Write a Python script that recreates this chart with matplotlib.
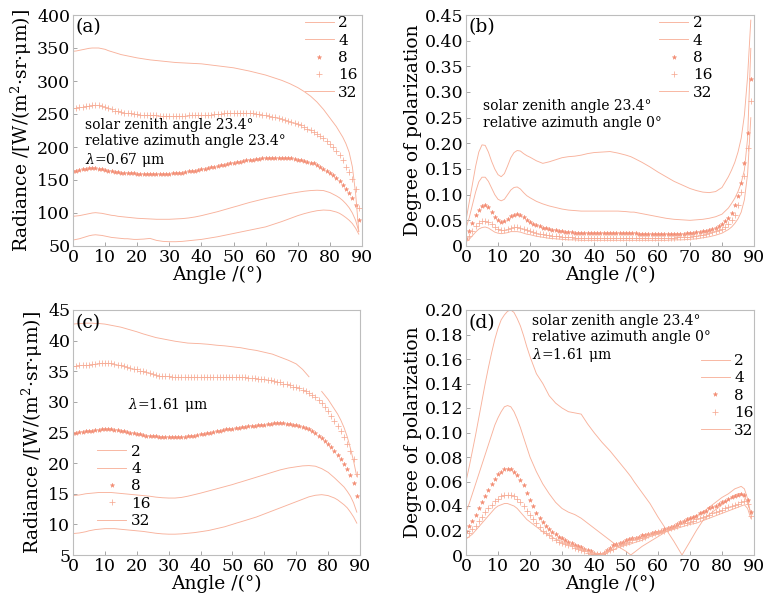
import numpy as np
import matplotlib
matplotlib.use("Agg")
import matplotlib.pyplot as plt

plt.rcParams['font.family'] = ['DejaVu Serif']
plt.rcParams['mathtext.fontset'] = 'dejavuserif'

# ---------------- data ----------------
labels = ["2", "4", "8", "16", "32"]
xticks = [0, 10, 20, 30, 40, 50, 60, 70, 80, 90]

# angle grid for the line series
x_line = [0, 1, 2, 3, 4, 5, 6, 7, 8, 9, 10, 11, 12, 13, 14, 15, 16, 17, 18, 19, 20,
          22, 24, 26, 28, 30, 32, 34, 36, 38, 40,
          42.5, 45, 47.5, 50, 51.5, 52.5, 55, 57.5, 60, 62.5, 65, 67.5, 70,
          72, 74, 76, 78, 80, 82, 83, 84, 85, 86, 87, 88, 89]
# angle grid for the marker series (one point per degree)
x_mark = list(range(0, 90))

# (a) radiance, lambda = 0.67 um
a_2 = [59, 60, 61, 62.5, 64, 65.5, 66.5, 67, 66.5, 66, 65, 64, 63, 62.5, 62, 61.5, 61, 61, 60.5, 60, 60,
       60.5, 61.5, 58.5, 57, 56.5, 56.5, 57, 58, 59, 60,
       62, 64, 66.5, 69, 70.5, 71.5, 74, 76.5, 79, 83, 87, 91.5, 96,
       99, 101.5, 103.5, 104.5, 104, 101.5, 99.5, 96.5, 93, 89, 84, 77, 68]
a_4 = [95, 95.5, 96, 97, 98, 99, 100, 100.5, 100, 99.5, 98.5, 97.5, 96.5, 96, 95, 94.5, 94, 93.5, 93, 92.5, 92,
       91.5, 91, 90.5, 90.5, 90.5, 91, 91.5, 92.5, 94, 96,
       99, 102, 105.5, 109, 111, 112.5, 116, 119, 122, 124.5, 127, 129.5, 131.5,
       133, 134, 134.5, 134, 131, 126, 123, 119, 114, 108, 100, 89, 72]
a_8 = [163, 164, 165, 166, 167, 168, 168, 168, 167, 166,
       165, 164, 163, 162, 162, 161, 161, 160, 160, 160,
       159, 159, 159, 159, 159, 159, 159, 159, 159, 159,
       159, 160, 160, 161, 161, 162, 163, 163, 164, 165,
       166, 167, 168, 169, 170, 171, 172, 173, 174, 175,
       176, 177, 178, 179, 180, 180, 181, 182, 182, 183,
       183, 184, 184, 184, 184, 184, 184, 183, 183, 182,
       181, 180, 179, 178, 176, 175, 173, 170, 167, 164,
       160, 157, 153, 148, 143, 137, 130, 122, 112, 90]
a_16 = [259, 259, 260, 261, 262, 262, 263, 263, 263, 262,
        261, 259, 257, 255, 254, 253, 252, 251, 251, 250,
        250, 249, 249, 248, 248, 248, 248, 247, 247, 247,
        247, 247, 247, 247, 247, 247, 248, 248, 248, 248,
        248, 249, 249, 249, 250, 250, 250, 251, 251, 251,
        252, 252, 252, 252, 251, 251, 251, 250, 250, 249,
        248, 247, 246, 245, 244, 243, 241, 240, 238, 237,
        235, 233, 231, 228, 226, 223, 220, 217, 213, 209,
        205, 200, 194, 188, 180, 170, 162, 152, 137, 107]
a_32 = [345, 345.5, 346.5, 347.5, 348.5, 349.5, 350, 350, 350, 349, 348, 346, 344.5, 343, 341.5, 340, 339, 338, 337, 336, 335,
        333.5, 332, 331, 330, 329, 328, 327.5, 327, 326.5, 326,
        324.5, 323, 321.5, 320, 318.5, 317.5, 315, 312, 309, 305, 301, 296, 290,
        284, 277, 268, 257, 244, 231, 223, 215, 205, 192, 170, 130, 72]

# (b) degree of polarization, lambda = 0.67 um
b_2 = [0.05, 0.085, 0.12, 0.155, 0.183, 0.197, 0.196, 0.183, 0.165, 0.150, 0.139, 0.135, 0.141, 0.156, 0.172, 0.182, 0.186, 0.185, 0.180, 0.176, 0.173,
       0.166, 0.161, 0.164, 0.168, 0.172, 0.174, 0.175, 0.177, 0.180, 0.182,
       0.183, 0.184, 0.181, 0.177, 0.174, 0.171, 0.163, 0.154, 0.144, 0.135, 0.126, 0.119, 0.112,
       0.108, 0.105, 0.104, 0.106, 0.114, 0.135, 0.148, 0.163, 0.183, 0.21, 0.255, 0.33, 0.44]
b_4 = [0.035, 0.055, 0.08, 0.105, 0.125, 0.134, 0.134, 0.126, 0.113, 0.1, 0.091, 0.088, 0.091, 0.1, 0.109, 0.114, 0.115, 0.111, 0.104, 0.098, 0.094,
       0.087, 0.082, 0.078, 0.075, 0.072, 0.07, 0.069, 0.068, 0.068, 0.068,
       0.068, 0.068, 0.068, 0.067, 0.066, 0.066, 0.063, 0.06, 0.057, 0.054, 0.052, 0.051, 0.05,
       0.051, 0.052, 0.054, 0.057, 0.062, 0.074, 0.083, 0.093, 0.106, 0.123, 0.148, 0.21, 0.385]
b_8 = [0.015, 0.03, 0.045, 0.06, 0.071, 0.078, 0.079, 0.075, 0.066, 0.056,
       0.05, 0.047, 0.049, 0.053, 0.058, 0.061, 0.062, 0.06, 0.056, 0.051,
       0.047, 0.043, 0.04, 0.038, 0.036, 0.035, 0.033, 0.032, 0.031, 0.03,
       0.029, 0.028, 0.027, 0.027, 0.026, 0.026, 0.025, 0.025, 0.025, 0.025,
       0.025, 0.025, 0.025, 0.025, 0.025, 0.025, 0.025, 0.025, 0.025, 0.025,
       0.025, 0.025, 0.025, 0.025, 0.024, 0.024, 0.024, 0.024, 0.024, 0.024,
       0.024, 0.023, 0.023, 0.023, 0.023, 0.023, 0.023, 0.024, 0.024, 0.025,
       0.025, 0.026, 0.027, 0.028, 0.029, 0.03, 0.032, 0.034, 0.036, 0.039,
       0.043, 0.048, 0.055, 0.065, 0.08, 0.097, 0.122, 0.161, 0.22, 0.325]
b_16 = [0.012, 0.02, 0.03, 0.038, 0.044, 0.048, 0.049, 0.047, 0.042, 0.037,
        0.033, 0.031, 0.032, 0.034, 0.036, 0.037, 0.037, 0.036, 0.034, 0.031,
        0.029, 0.027, 0.025, 0.024, 0.023, 0.022, 0.021, 0.02, 0.019, 0.019,
        0.018, 0.018, 0.017, 0.017, 0.016, 0.016, 0.016, 0.016, 0.016, 0.016,
        0.016, 0.016, 0.016, 0.016, 0.016, 0.016, 0.016, 0.016, 0.016, 0.016,
        0.016, 0.016, 0.016, 0.016, 0.016, 0.016, 0.016, 0.016, 0.016, 0.016,
        0.016, 0.016, 0.016, 0.016, 0.016, 0.016, 0.017, 0.017, 0.017, 0.018,
        0.018, 0.019, 0.02, 0.021, 0.022, 0.023, 0.025, 0.027, 0.029, 0.031,
        0.033, 0.037, 0.042, 0.05, 0.06, 0.08, 0.106, 0.137, 0.19, 0.283]
b_32 = [0.008, 0.013, 0.02, 0.027, 0.033, 0.036, 0.037, 0.035, 0.031, 0.027, 0.025, 0.024, 0.025, 0.026, 0.028, 0.028, 0.028, 0.027, 0.025, 0.023, 0.022,
        0.019, 0.017, 0.015, 0.014, 0.013, 0.012, 0.012, 0.011, 0.011, 0.011,
        0.011, 0.011, 0.011, 0.011, 0.011, 0.011, 0.011, 0.011, 0.011, 0.011, 0.012, 0.012, 0.013,
        0.014, 0.016, 0.018, 0.021, 0.025, 0.032, 0.037, 0.044, 0.053, 0.066, 0.09, 0.14, 0.25]

# (c) radiance, lambda = 1.61 um
c_2 = [8.5, 8.55, 8.6, 8.7, 8.8, 8.95, 9.05, 9.15, 9.2, 9.25, 9.3, 9.3, 9.3, 9.3, 9.25, 9.2, 9.15, 9.1, 9.05, 9.0, 8.95,
       8.85, 8.7, 8.55, 8.45, 8.4, 8.4, 8.45, 8.55, 8.65, 8.8,
       9.0, 9.3, 9.6, 10.0, 10.25, 10.4, 10.8, 11.2, 11.7, 12.2, 12.7, 13.2, 13.7,
       14.1, 14.5, 14.75, 14.85, 14.7, 14.3, 14.0, 13.6, 13.2, 12.7, 12.0, 11.2, 10.2]
c_4 = [14.7, 14.75, 14.8, 14.9, 15.0, 15.05, 15.1, 15.15, 15.2, 15.2, 15.2, 15.2, 15.2, 15.15, 15.1, 15.05, 15.0, 14.95, 14.9, 14.85, 14.8,
       14.7, 14.6, 14.45, 14.35, 14.3, 14.3, 14.4, 14.6, 14.85, 15.1,
       15.45, 15.8, 16.15, 16.5, 16.75, 16.9, 17.3, 17.7, 18.1, 18.5, 18.9, 19.2, 19.4,
       19.55, 19.6, 19.5, 19.1, 18.5, 17.6, 17.1, 16.6, 16.1, 15.4, 14.6, 13.5, 12.0]
c_8 = [25.0, 25.0, 25.1, 25.1, 25.2, 25.3, 25.3, 25.4, 25.4, 25.5,
       25.5, 25.5, 25.5, 25.4, 25.4, 25.3, 25.2, 25.1, 25.0, 24.9,
       24.8, 24.7, 24.6, 24.5, 24.5, 24.4, 24.4, 24.3, 24.3, 24.3,
       24.2, 24.2, 24.2, 24.3, 24.3, 24.3, 24.4, 24.4, 24.5, 24.6,
       24.7, 24.8, 24.9, 25.0, 25.1, 25.2, 25.3, 25.4, 25.5, 25.6,
       25.6, 25.7, 25.8, 25.9, 25.9, 26.0, 26.0, 26.1, 26.2, 26.3,
       26.3, 26.4, 26.4, 26.5, 26.5, 26.5, 26.5, 26.4, 26.4, 26.3,
       26.2, 26.1, 25.9, 25.7, 25.5, 25.2, 24.9, 24.5, 24.1, 23.6,
       23.1, 22.6, 22.0, 21.3, 20.6, 19.8, 19.0, 18.0, 16.8, 14.6]
c_16 = [35.9, 35.9, 36.0, 36.0, 36.1, 36.1, 36.2, 36.2, 36.3, 36.3,
        36.3, 36.3, 36.3, 36.2, 36.1, 36.0, 35.9, 35.7, 35.6, 35.4,
        35.3, 35.1, 35.0, 34.8, 34.7, 34.6, 34.4, 34.3, 34.3, 34.2,
        34.2, 34.1, 34.1, 34.0, 34.0, 34.0, 34.0, 34.0, 34.0, 34.0,
        34.0, 34.0, 34.0, 34.0, 34.0, 34.0, 34.0, 34.0, 34.0, 34.0,
        34.0, 34.0, 34.0, 34.0, 34.0, 33.9, 33.9, 33.9, 33.8, 33.8,
        33.7, 33.6, 33.5, 33.4, 33.3, 33.2, 33.0, 32.9, 32.7, 32.5,
        32.4, 32.2, 32.0, 31.8, 31.5, 31.2, 30.8, 30.3, 29.8, 29.2,
        28.5, 27.7, 26.9, 26.1, 25.2, 24.3, 23.2, 22.0, 20.6, 18.2]
c_32 = [42.7, 42.75, 42.8, 42.8, 42.85, 42.85, 42.85, 42.8, 42.8, 42.75, 42.7, 42.6, 42.5, 42.4, 42.3, 42.2, 42.05, 41.9, 41.75, 41.6, 41.45,
        41.1, 40.8, 40.5, 40.3, 40.1, 39.9, 39.75, 39.6, 39.55, 39.5,
        39.4, 39.25, 39.15, 39.0, 38.9, 38.85, 38.6, 38.4, 38.1, 37.8, 37.3, 36.8, 36.2,
        35.3, 34.1, np.nan, 31.7, 30.4, 28.8, 28.0, 27.0, 25.8, 24.3, 22.4, 20.3, 17.8]

# (d) degree of polarization, lambda = 1.61 um
d_2 = [0.06, 0.072, 0.085, 0.098, 0.112, 0.126, 0.14, 0.153, 0.165, 0.176, 0.185, 0.192, 0.196, 0.199, 0.2, 0.198, 0.193, 0.187, 0.179, 0.17, 0.162,
       0.148, 0.14, 0.13, 0.124, 0.12, 0.117, 0.116, 0.115, 0.107, 0.1,
       0.092, 0.085, 0.077, 0.069, 0.064, 0.06, 0.051, 0.042, 0.031, 0.021, 0.011, 0.0, 0.011,
       0.02, 0.028, 0.033, 0.037, 0.041, 0.045, 0.047, 0.049, 0.05, 0.05, 0.048, 0.042, 0.035]
d_4 = [0.035, 0.042, 0.05, 0.058, 0.066, 0.074, 0.082, 0.09, 0.098, 0.106, 0.112, 0.117, 0.121, 0.122, 0.121, 0.117, 0.111, 0.104, 0.096, 0.088, 0.08,
       0.068, 0.058, 0.05, 0.043, 0.038, 0.035, 0.033, 0.03, 0.026, 0.022,
       0.017, 0.012, 0.007, 0.003, 0.0, 0.002, 0.007, 0.011, 0.015, 0.019, 0.022, 0.026, 0.029,
       0.032, 0.035, 0.039, 0.043, 0.047, 0.05, 0.052, 0.054, 0.055, 0.056, 0.054, 0.046, 0.033]
d_8 = [0.02, 0.024, 0.028, 0.033, 0.038, 0.043, 0.048, 0.053, 0.058, 0.062,
       0.066, 0.068, 0.07, 0.07, 0.07, 0.068, 0.065, 0.061, 0.057, 0.051,
       0.045, 0.04, 0.034, 0.03, 0.027, 0.024, 0.021, 0.019, 0.017, 0.015,
       0.014, 0.012, 0.011, 0.0095, 0.0085, 0.0075, 0.0065, 0.005, 0.004, 0.003,
       0.001, 0.0005, 0.0005, 0.002, 0.004, 0.006, 0.008, 0.009, 0.01, 0.011,
       0.012, 0.013, 0.0135, 0.014, 0.015, 0.016, 0.0165, 0.017, 0.018, 0.019,
       0.019, 0.02, 0.021, 0.022, 0.023, 0.024, 0.025, 0.027, 0.028, 0.029,
       0.03, 0.031, 0.032, 0.034, 0.035, 0.036, 0.038, 0.039, 0.04, 0.042,
       0.043, 0.044, 0.046, 0.047, 0.048, 0.049, 0.05, 0.049, 0.045, 0.035]
d_16 = [0.015, 0.018, 0.021, 0.024, 0.028, 0.031, 0.035, 0.038, 0.041, 0.044,
        0.046, 0.048, 0.049, 0.049, 0.049, 0.048, 0.046, 0.043, 0.04, 0.036,
        0.033, 0.029, 0.026, 0.023, 0.02, 0.018, 0.016, 0.014, 0.012, 0.011,
        0.01, 0.009, 0.008, 0.007, 0.006, 0.005, 0.004, 0.003, 0.002, 0.001,
        0.0005, 0.0005, 0.001, 0.002, 0.003, 0.004, 0.005, 0.007, 0.008, 0.009,
        0.01, 0.011, 0.012, 0.013, 0.014, 0.014, 0.015, 0.016, 0.017, 0.018,
        0.019, 0.02, 0.02, 0.021, 0.022, 0.023, 0.024, 0.025, 0.026, 0.026,
        0.027, 0.028, 0.029, 0.03, 0.031, 0.032, 0.033, 0.034, 0.035, 0.036,
        0.037, 0.038, 0.039, 0.04, 0.041, 0.042, 0.043, 0.044, 0.042, 0.032]
d_32 = [0.013, 0.015, 0.017, 0.02, 0.023, 0.026, 0.029, 0.032, 0.035, 0.038, 0.04, 0.041, 0.042, 0.042, 0.041, 0.04, 0.038, 0.035, 0.032, 0.029, 0.027,
        0.023, 0.019, 0.016, 0.013, 0.011, 0.009, 0.007, 0.005, 0.003, 0.002,
        0.0, 0.003, 0.006, 0.008, 0.009, 0.01, 0.012, 0.015, 0.017, 0.019, 0.021, 0.023, 0.025,
        0.026, 0.028, 0.03, 0.032, 0.034, 0.036, 0.037, 0.038, 0.039, 0.04, 0.041, 0.038, 0.03]

# ---------------- styling ----------------
LINE_C = '#f8b29c'
STAR_C = '#f38a70'
PLUS_C = '#f7ab94'
SPINE_C = '#bdbdbd'

fig = plt.figure(figsize=(7.68, 6.03), dpi=100)

W, H = 768.0, 603.0
def box(l, t, r, b):
    return [l / W, 1 - b / H, (r - l) / W, (b - t) / H]

ax_a = fig.add_axes(box(73, 15, 362, 246))
ax_b = fig.add_axes(box(466, 15, 754, 246))
ax_c = fig.add_axes(box(73, 310, 360, 555))
ax_d = fig.add_axes(box(466, 310, 754, 555))

def draw(ax, s2, s4, s8, s16, s32):
    h2, = ax.plot(x_line, s2, color=LINE_C, lw=0.65)
    h4, = ax.plot(x_line, s4, color=LINE_C, lw=0.65)
    h8, = ax.plot(x_mark, s8, ls='none', marker='*', ms=3.3, mec=STAR_C, mfc=STAR_C, mew=0.3)
    h16, = ax.plot(x_mark, s16, ls='none', marker='+', ms=4.0, mec=PLUS_C, mew=0.55)
    h32, = ax.plot(x_line, s32, color=LINE_C, lw=0.65)
    return [h2, h4, h8, h16, h32]

def style(ax, ylim, yticks, ylabels, ylabel):
    ax.set_xlim(0, 90)
    ax.set_ylim(*ylim)
    ax.set_xticks(xticks)
    ax.set_yticks(yticks)
    ax.set_yticklabels(ylabels)
    for s in ax.spines.values():
        s.set_color(SPINE_C)
        s.set_linewidth(0.8)
    ax.tick_params(direction='in', length=3, width=0.6, color='#999999',
                   labelsize=12.5, pad=2)
    ax.set_xlabel('Angle /(°)', fontsize=13.5, labelpad=0)
    ax.set_ylabel(ylabel, fontsize=13.5, labelpad=2)

rad_label = 'Radiance /[W/(m$^2$·sr·μm)]'
dop_label = 'Degree of polarization'

ha = draw(ax_a, a_2, a_4, a_8, a_16, a_32)
style(ax_a, (50, 400), list(range(50, 401, 50)), [str(v) for v in range(50, 401, 50)], rad_label)
hb = draw(ax_b, b_2, b_4, b_8, b_16, b_32)
b_ticks = [0, 0.05, 0.1, 0.15, 0.2, 0.25, 0.3, 0.35, 0.4, 0.45]
style(ax_b, (0, 0.45), b_ticks, ['0'] + ['%.2f' % v for v in b_ticks[1:]], dop_label)
hc = draw(ax_c, c_2, c_4, c_8, c_16, c_32)
style(ax_c, (5, 45), list(range(5, 46, 5)), [str(v) for v in range(5, 46, 5)], rad_label)
hd = draw(ax_d, d_2, d_4, d_8, d_16, d_32)
d_ticks = [0, 0.02, 0.04, 0.06, 0.08, 0.1, 0.12, 0.14, 0.16, 0.18, 0.2]
style(ax_d, (0, 0.2), d_ticks, ['0'] + ['%.2f' % v for v in d_ticks[1:]], dop_label)

def legend(ax, handles, loc, anchor):
    ax.legend(handles, labels, loc=loc, bbox_to_anchor=anchor, frameon=False,
              fontsize=11, handlelength=1.9, handletextpad=0.3, labelspacing=0.22,
              borderpad=0, borderaxespad=0, markerscale=1.0, numpoints=1)

legend(ax_a, ha, 'upper right', (0.985, 0.995))
legend(ax_b, hb, 'upper right', (0.855, 0.995))
legend(ax_c, hc, 'upper left', (0.085, 0.45))
legend(ax_d, hd, 'upper left', (0.815, 0.82))

# panel tags and annotations
for ax, tag in [(ax_a, '(a)'), (ax_b, '(b)'), (ax_c, '(c)'), (ax_d, '(d)')]:
    ax.text(0.01, 0.985, tag, transform=ax.transAxes, fontsize=13.5, va='top', ha='left')

ax_a.text(0.04, 0.555, 'solar zenith angle 23.4°\nrelative azimuth angle 23.4°\n$\\lambda$=0.67 μm',
          transform=ax_a.transAxes, fontsize=10, va='top', ha='left', linespacing=1.2)
ax_b.text(0.06, 0.635, 'solar zenith angle 23.4°\nrelative azimuth angle 0°',
          transform=ax_b.transAxes, fontsize=10, va='top', ha='left', linespacing=1.2)
ax_c.text(0.19, 0.65, '$\\lambda$=1.61 μm', transform=ax_c.transAxes, fontsize=10,
          va='top', ha='left')
ax_d.text(0.23, 0.985, 'solar zenith angle 23.4°\nrelative azimuth angle 0°\n$\\lambda$=1.61 μm',
          transform=ax_d.transAxes, fontsize=10, va='top', ha='left', linespacing=1.2)

fig.savefig('out.png', dpi=100)
